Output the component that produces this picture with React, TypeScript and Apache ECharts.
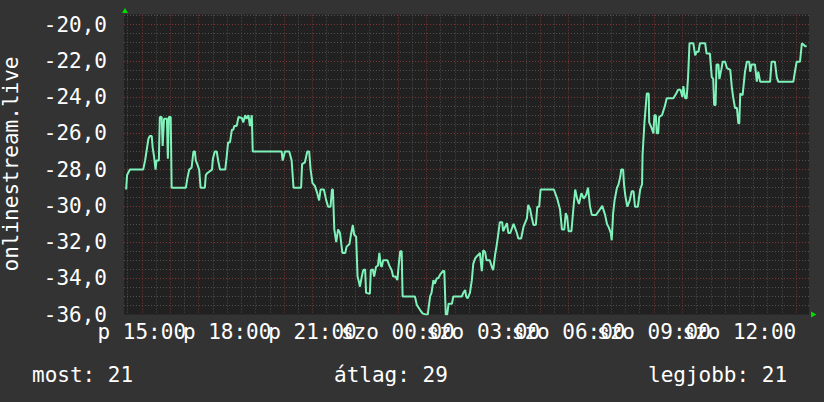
import React, { useEffect, useRef } from "react";
import * as echarts from "echarts";

// Time stamps (Fri "p" -> Sat "szo"), HH:MM, wrap past midnight
const times = [
  "14:27","14:29","14:35","15:03","15:07","15:14","15:17","15:21","15:23","15:26",
  "15:29","15:31","15:36","15:38","15:42","15:44","15:47","15:53","15:55","15:57",
  "16:01","16:03","16:33","16:36","16:40","16:45","16:49","16:52","16:54","16:57",
  "17:01","17:04","17:13","17:15","17:18","17:28","17:30","17:34","17:38","17:41",
  "17:45","17:56","17:59","18:02","18:06","18:10","18:13","18:15","18:20","18:24",
  "18:31","18:34","18:38","18:41","18:45","18:48","18:52","18:54","19:55","19:57",
  "20:02","20:11","20:16","20:20","20:36","20:38","20:44","20:49","20:53","20:56",
  "21:00","21:05","21:10","21:14","21:17","21:24","21:29","21:33","21:38","21:41",
  "21:43","21:46","21:50","21:54","21:58","22:03","22:09","22:12","22:18","22:21",
  "22:25","22:28","22:32","22:35","22:37","22:40","22:44","22:47","22:51","22:53",
  "23:01","23:03","23:07","23:10","23:14","23:18","23:21","23:24","23:26","23:29",
  "23:38","23:42","23:47","23:50","23:55","23:59","00:02","00:05","00:08","00:10",
  "00:36","00:40","00:47","00:52","00:59","01:03","01:08","01:11","01:15","01:18",
  "01:22","01:25","01:29","01:35","01:38","01:41","01:44","01:47","01:54","01:57",
  "02:15","02:18","02:22","02:24","02:27","02:32","02:36","02:39","02:43","02:46",
  "02:50","02:53","02:57","03:00","03:04","03:07","03:14","03:18","03:21","03:25",
  "03:28","03:32","03:35","03:40","03:42","03:50","03:53","03:57","04:04","04:11",
  "04:14","04:20","04:25","04:32","04:35","04:39","04:42","04:46","04:51","04:54",
  "04:58","05:01","05:21","05:29","05:36","05:42","05:46","05:51","05:54","05:57",
  "06:00","06:06","06:11","06:14","06:18","06:22","06:27","06:32","06:37","06:41",
  "06:45","06:49","06:58","07:06","07:11","07:17","07:21","07:25","07:29","07:31",
  "07:34","07:37","07:42","07:45","07:49","07:51","07:55","07:57","08:00","08:04",
  "08:09","08:13","08:17","08:20","08:26","08:31","08:35","08:36","08:40","08:45",
  "08:49","08:50","08:55","08:59","09:01","09:04","09:06","09:09","09:11","09:17",
  "09:23","09:27","09:41","09:47","09:51","09:56","10:00","10:02","10:06","10:09",
  "10:12","10:15","10:23","10:27","10:30","10:34","10:37","10:48","10:51","10:58",
  "11:02","11:05","11:07","11:10","11:12","11:16","11:18","11:22","11:25","11:30",
  "11:34","11:41","11:44","11:47","11:51","11:55","11:58","12:00","12:02","12:07",
  "12:12","12:16","12:21","12:23","12:26","12:33","12:37","12:40","12:44","13:05",
  "13:08","13:15","13:19","13:22","13:54","13:58","14:01","14:08","14:12","14:15",
  "14:19","14:22"
];

const values = [
  -29.1,-28.3,-28.0,-28.0,-27.5,-26.3,-26.15,-26.15,-26.8,-27.3,
  -28.0,-27.5,-27.5,-25.1,-25.1,-26.7,-25.2,-25.2,-27.4,-25.1,
  -25.1,-29.0,-29.0,-28.5,-28.0,-27.9,-27.0,-27.0,-27.5,-27.7,
  -28.0,-29.0,-29.0,-28.3,-28.2,-28.0,-27.4,-27.0,-27.0,-27.5,
  -28.0,-28.0,-27.3,-26.5,-26.5,-25.8,-25.8,-25.6,-25.6,-25.1,
  -25.15,-25.4,-25.0,-25.2,-25.0,-25.6,-25.0,-27.0,-27.0,-27.5,
  -27.0,-27.0,-27.5,-29.0,-29.0,-27.7,-27.6,-27.0,-27.0,-28.0,
  -28.75,-28.9,-29.3,-29.7,-29.1,-29.1,-29.7,-30.05,-30.05,-29.1,
  -29.1,-31.3,-32.0,-31.3,-31.5,-32.6,-32.6,-32.25,-32.1,-31.6,
  -31.06,-31.6,-31.7,-33.9,-34.1,-34.46,-33.9,-33.55,-33.5,-34.8,
  -34.85,-33.55,-33.5,-33.9,-33.36,-33.3,-32.6,-33.3,-33.36,-33.0,
  -33.0,-33.3,-33.55,-33.9,-33.9,-34.1,-33.2,-32.5,-32.5,-35.0,
  -35.0,-35.47,-35.75,-35.93,-36.0,-36.0,-35.0,-34.8,-34.1,-34.3,
  -34.0,-34.0,-33.8,-33.6,-33.6,-36.0,-36.0,-35.4,-35.4,-35.0,
  -35.0,-34.8,-34.64,-35.0,-35.1,-34.8,-34.1,-33.2,-32.9,-32.8,
  -32.7,-32.6,-33.6,-32.45,-32.55,-33.0,-33.0,-33.36,-33.55,-32.7,
  -32.25,-31.5,-30.9,-30.9,-31.4,-30.95,-31.5,-31.5,-31.0,-31.5,
  -31.8,-31.8,-31.15,-30.7,-29.95,-30.2,-30.6,-31.06,-31.05,-30.05,
  -30.05,-29.1,-29.1,-29.1,-29.6,-30.2,-31.3,-31.3,-30.4,-30.6,
  -31.4,-31.4,-29.9,-29.1,-29.6,-29.9,-29.3,-29.6,-29.4,-29.0,
  -30.0,-30.5,-30.5,-30.2,-30.0,-30.5,-31.0,-31.2,-31.5,-31.9,
  -30.4,-29.7,-29.0,-28.85,-28.4,-28.0,-28.0,-28.85,-29.5,-30.05,
  -29.7,-29.2,-29.2,-30.05,-30.05,-29.1,-28.8,-27.2,-25.4,-23.8,
  -23.8,-25.4,-25.7,-26.0,-25.0,-25.0,-26.0,-26.0,-25.1,-25.0,
  -24.5,-24.07,-24.07,-23.8,-23.6,-23.6,-24.0,-23.4,-24.07,-24.07,
  -22.9,-21.03,-21.03,-21.7,-21.5,-21.5,-21.03,-21.03,-21.6,-21.6,
  -22.9,-23.0,-24.44,-24.44,-22.2,-22.2,-23.0,-22.5,-22.05,-22.05,
  -22.4,-22.5,-23.4,-24.0,-24.6,-24.6,-25.45,-25.45,-23.8,-23.9,
  -22.6,-22.05,-22.05,-22.6,-22.2,-22.2,-23.15,-22.6,-23.15,-23.15,
  -22.05,-22.05,-22.9,-23.15,-23.15,-22.5,-22.05,-22.05,-21.03,-21.1,
  -21.2,-21.2
];

// x axis in minutes since Friday 00:00
const xRange = [862.5, 2307];
const xLabelMinutes = [900, 1080, 1260, 1440, 1620, 1800, 1980, 2160];
const xLabelTexts = ["p 15:00", "p 18:00", "p 21:00", "szo 00:00", "szo 03:00", "szo 06:00", "szo 09:00", "szo 12:00"];
const yRange = [-36, -19.45];
const yLabelValues = [-36, -34, -32, -30, -28, -26, -24, -22, -20];
const yAxisTitle = "onlinestream.live";
const summaryLabels = ["most: 21", "átlag: 29", "legjobb: 21"];

const FONT = '"DejaVu Sans Mono", monospace';

function buildData(): [number, number][] {
  const out: [number, number][] = [];
  let day = 0;
  let prev = -1;
  for (let i = 0; i < times.length; i++) {
    const [h, m] = times[i].split(":").map(Number);
    let t = h * 60 + m;
    if (t + day * 1440 < prev) day++;
    t += day * 1440;
    prev = t;
    out.push([t, values[i]]);
  }
  return out;
}

function range(a: number, b: number, step: number, skip?: number): number[] {
  const r: number[] = [];
  for (let v = a; v <= b + 1e-9; v += step) {
    if (skip && Math.abs(v / skip - Math.round(v / skip)) < 1e-6) continue;
    r.push(Math.round(v * 1000) / 1000);
  }
  return r;
}

export default function App() {
  const ref = useRef<HTMLDivElement>(null);
  useEffect(() => {
    if (!ref.current) return;
    const chart = echarts.init(ref.current, undefined, { renderer: "svg" });
    const halfHours = range(870, 2280, 30, 60);
    const hours = range(900, 2280, 60);
    const yMinor = range(-35.5, -19.5, 0.5, 2);
    const yMajor = range(-34, -20, 2);
    const gray = "#505050";
    const red = "#7e3636";
    const common = { min: xRange[0], max: xRange[1], type: "value" as const };
    const labelFmt = (v: number) => {
      const i = xLabelMinutes.indexOf(Math.round(v));
      return i >= 0 ? xLabelTexts[i] : "";
    };
    const labelBase = {
      showMinLabel: true,
      showMaxLabel: true,
      hideOverlap: false,
      color: "#ffffff",
      fontFamily: FONT,
      fontSize: 21,
      margin: 7,
      formatter: labelFmt,
    };
    chart.setOption({
      animation: false,
      backgroundColor: "#333333",
      grid: {
        left: 124,
        right: 15,
        top: 14.6,
        bottom: 87.4,
        show: true,
        backgroundColor: "#212121",
        borderWidth: 0,
      },
      xAxis: [
        {
          ...common,
          position: "bottom",
          axisLine: { show: false },
          axisTick: { show: false, customValues: halfHours },
          splitLine: { show: true, lineStyle: { color: gray, width: 1, type: [1, 2] } },
          axisLabel: { ...labelBase, customValues: xLabelMinutes.filter((_, i) => i % 2 === 0) },
        },
        {
          ...common,
          position: "bottom",
          offset: 0,
          axisLine: { show: false },
          axisTick: { show: false, customValues: hours },
          splitLine: { show: true, lineStyle: { color: red, width: 1, type: [1, 2] } },
          axisLabel: { ...labelBase, customValues: xLabelMinutes.filter((_, i) => i % 2 === 1) },
        },
      ],
      yAxis: [
        {
          type: "value",
          min: yRange[0],
          max: yRange[1],
          axisLine: { show: false },
          axisTick: { show: false, customValues: yMinor },
          splitLine: { show: true, lineStyle: { color: gray, width: 1, type: [1, 2] } },
          axisLabel: {
            customValues: yLabelValues,
            showMinLabel: true,
            showMaxLabel: true,
            color: "#ffffff",
            fontFamily: FONT,
            fontSize: 21,
            margin: 17,
            formatter: (v: number) => v.toFixed(1).replace(".", ","),
          },
        },
        {
          type: "value",
          min: yRange[0],
          max: yRange[1],
          position: "left",
          axisLine: { show: false },
          axisTick: { show: false, customValues: yMajor },
          splitLine: { show: true, lineStyle: { color: red, width: 1, type: [1, 2] } },
          axisLabel: { show: false },
        },
      ],
      series: [
        {
          type: "line",
          xAxisIndex: 0,
          yAxisIndex: 0,
          data: buildData(),
          showSymbol: false,
          symbol: "none",
          lineStyle: { color: "#7ff2ba", width: 2 },
          z: 5,
        },
      ],
      graphic: [
        {
          type: "text",
          x: 11,
          y: 164,
          rotation: Math.PI / 2,
          style: {
            text: yAxisTitle,
            fill: "#ffffff",
            fontFamily: FONT,
            fontSize: 21,
            align: "center",
            verticalAlign: "middle",
          },
        },
        {
          type: "text",
          x: 32,
          y: 375,
          style: { text: summaryLabels[0], fill: "#ffffff", fontFamily: FONT, fontSize: 21, align: "left", verticalAlign: "middle" },
        },
        {
          type: "text",
          x: 334,
          y: 375,
          style: { text: summaryLabels[1], fill: "#ffffff", fontFamily: FONT, fontSize: 21, align: "left", verticalAlign: "middle" },
        },
        {
          type: "text",
          x: 648,
          y: 375,
          style: { text: summaryLabels[2], fill: "#ffffff", fontFamily: FONT, fontSize: 21, align: "left", verticalAlign: "middle" },
        },
        {
          type: "polygon",
          shape: { points: [[122, 13], [128, 13], [125, 8]] },
          style: { fill: "#00dd00" },
        },
        {
          type: "polygon",
          shape: { points: [[811, 311.5], [811, 317.5], [816.5, 314.5]] },
          style: { fill: "#00dd00" },
        },
      ],
    });
    return () => chart.dispose();
  }, []);
  return (
    <div
      ref={ref}
      style={{ position: "fixed", left: 0, top: 0, width: 824, height: 402 }}
    />
  );
}
